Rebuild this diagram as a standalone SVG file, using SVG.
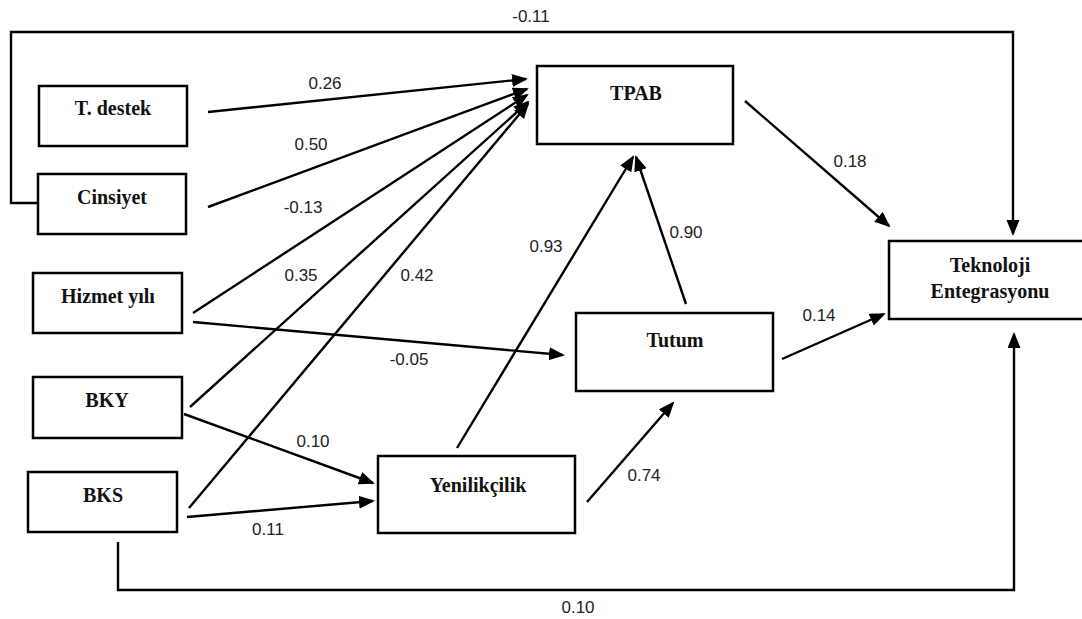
<svg xmlns="http://www.w3.org/2000/svg" width="1082" height="619" viewBox="0 0 1082 619">
  <style>
    .box { fill: #ffffff; stroke: #000000; stroke-width: 2.5; }
    .name { font-family: 'Liberation Serif', Tinos, 'Times New Roman', 'DejaVu Serif', serif; font-weight: 700; font-size: 20px; fill: #111111; text-anchor: middle; }
    .coef { font-family: 'Liberation Sans', Arial, sans-serif; font-size: 17px; fill: #222222; text-anchor: middle; }
    .edge { fill: none; stroke: #000000; stroke-width: 2.4; }
  </style>
  <defs>
    <marker id="arrow" markerUnits="userSpaceOnUse" markerWidth="16" markerHeight="14" refX="14" refY="6.5" orient="auto">
      <path d="M0,0 L16,6.5 L0,13 Z" fill="#000000"/>
    </marker>
  </defs>
  <rect width="1082" height="619" fill="#ffffff"/>

  <!-- path connectors -->
  <g id="connectors">
    <!-- into TPAB -->
    <line class="edge" x1="208" y1="112" x2="526" y2="79" marker-end="url(#arrow)"/>
    <line class="edge" x1="208" y1="207" x2="527" y2="89" marker-end="url(#arrow)"/>
    <line class="edge" x1="193" y1="313" x2="527" y2="95" marker-end="url(#arrow)"/>
    <line class="edge" x1="190" y1="407" x2="528" y2="102" marker-end="url(#arrow)"/>
    <line class="edge" x1="189" y1="508" x2="528" y2="104" marker-end="url(#arrow)"/>
    <line class="edge" x1="457" y1="448" x2="633" y2="157" marker-end="url(#arrow)"/>
    <line class="edge" x1="686" y1="304" x2="636" y2="157" marker-end="url(#arrow)"/>
    <!-- into Tutum -->
    <line class="edge" x1="193" y1="322" x2="563" y2="355" marker-end="url(#arrow)"/>
    <line class="edge" x1="587" y1="502" x2="673" y2="403" marker-end="url(#arrow)"/>
    <!-- into Yenilikçilik -->
    <line class="edge" x1="184" y1="414" x2="373" y2="483" marker-end="url(#arrow)"/>
    <line class="edge" x1="187" y1="517" x2="373" y2="501" marker-end="url(#arrow)"/>
    <!-- into Teknoloji Entegrasyonu -->
    <line class="edge" x1="745" y1="101" x2="889" y2="226" marker-end="url(#arrow)"/>
    <line class="edge" x1="782" y1="359" x2="884" y2="314" marker-end="url(#arrow)"/>
    <polyline class="edge" points="38,203 11,203 11,32 1013,32 1013,234" marker-end="url(#arrow)"/>
    <polyline class="edge" points="118,542 118,590 1014,590 1014,334" marker-end="url(#arrow)"/>
  </g>

  <!-- coefficients -->
  <g id="coefficients">
    <text class="coef" x="531" y="22">-0.11</text>
    <text class="coef" x="325" y="89">0.26</text>
    <text class="coef" x="311" y="150">0.50</text>
    <text class="coef" x="303" y="213">-0.13</text>
    <text class="coef" x="301" y="281">0.35</text>
    <text class="coef" x="417" y="281">0.42</text>
    <text class="coef" x="546" y="252">0.93</text>
    <text class="coef" x="686" y="238">0.90</text>
    <text class="coef" x="850" y="167">0.18</text>
    <text class="coef" x="819" y="321">0.14</text>
    <text class="coef" x="409" y="365">-0.05</text>
    <text class="coef" x="313" y="447">0.10</text>
    <text class="coef" x="268" y="535">0.11</text>
    <text class="coef" x="644" y="481">0.74</text>
    <text class="coef" x="578" y="613">0.10</text>
  </g>

  <g id="node-tdestek">
    <rect class="box" x="39" y="86" width="148" height="60"/>
    <text class="name" x="113" y="115" font-family="Liberation Serif, serif">T. destek</text>
  </g>
  <g id="node-cinsiyet">
    <rect class="box" x="38" y="174" width="148" height="60"/>
    <text class="name" x="112" y="204" font-family="Liberation Serif, serif">Cinsiyet</text>
  </g>
  <g id="node-hizmet">
    <rect class="box" x="33" y="273" width="149" height="60"/>
    <text class="name" x="108" y="303" font-family="Liberation Serif, serif">Hizmet yılı</text>
  </g>
  <g id="node-bky">
    <rect class="box" x="33" y="377" width="149" height="61"/>
    <text class="name" x="107" y="407" font-family="Liberation Serif, serif">BKY</text>
  </g>
  <g id="node-bks">
    <rect class="box" x="28" y="472" width="149" height="60"/>
    <text class="name" x="103" y="502" font-family="Liberation Serif, serif">BKS</text>
  </g>
  <g id="node-tpab">
    <rect class="box" x="537" y="66" width="196" height="78"/>
    <text class="name" x="636" y="100" font-family="Liberation Serif, serif">TPAB</text>
  </g>
  <g id="node-tutum">
    <rect class="box" x="576" y="313" width="197" height="78"/>
    <text class="name" x="675" y="347" font-family="Liberation Serif, serif">Tutum</text>
  </g>
  <g id="node-yenilikcilik">
    <rect class="box" x="378" y="456" width="197" height="77"/>
    <text class="name" x="478" y="492" font-family="Liberation Serif, serif">Yenilikçilik</text>
  </g>
  <g id="node-teknoloji">
    <rect class="box" x="889" y="241" width="205" height="78"/>
    <text class="name" x="990" y="272" font-family="Liberation Serif, serif">Teknoloji</text>
    <text class="name" x="990" y="298" font-family="Liberation Serif, serif">Entegrasyonu</text>
  </g>
</svg>
